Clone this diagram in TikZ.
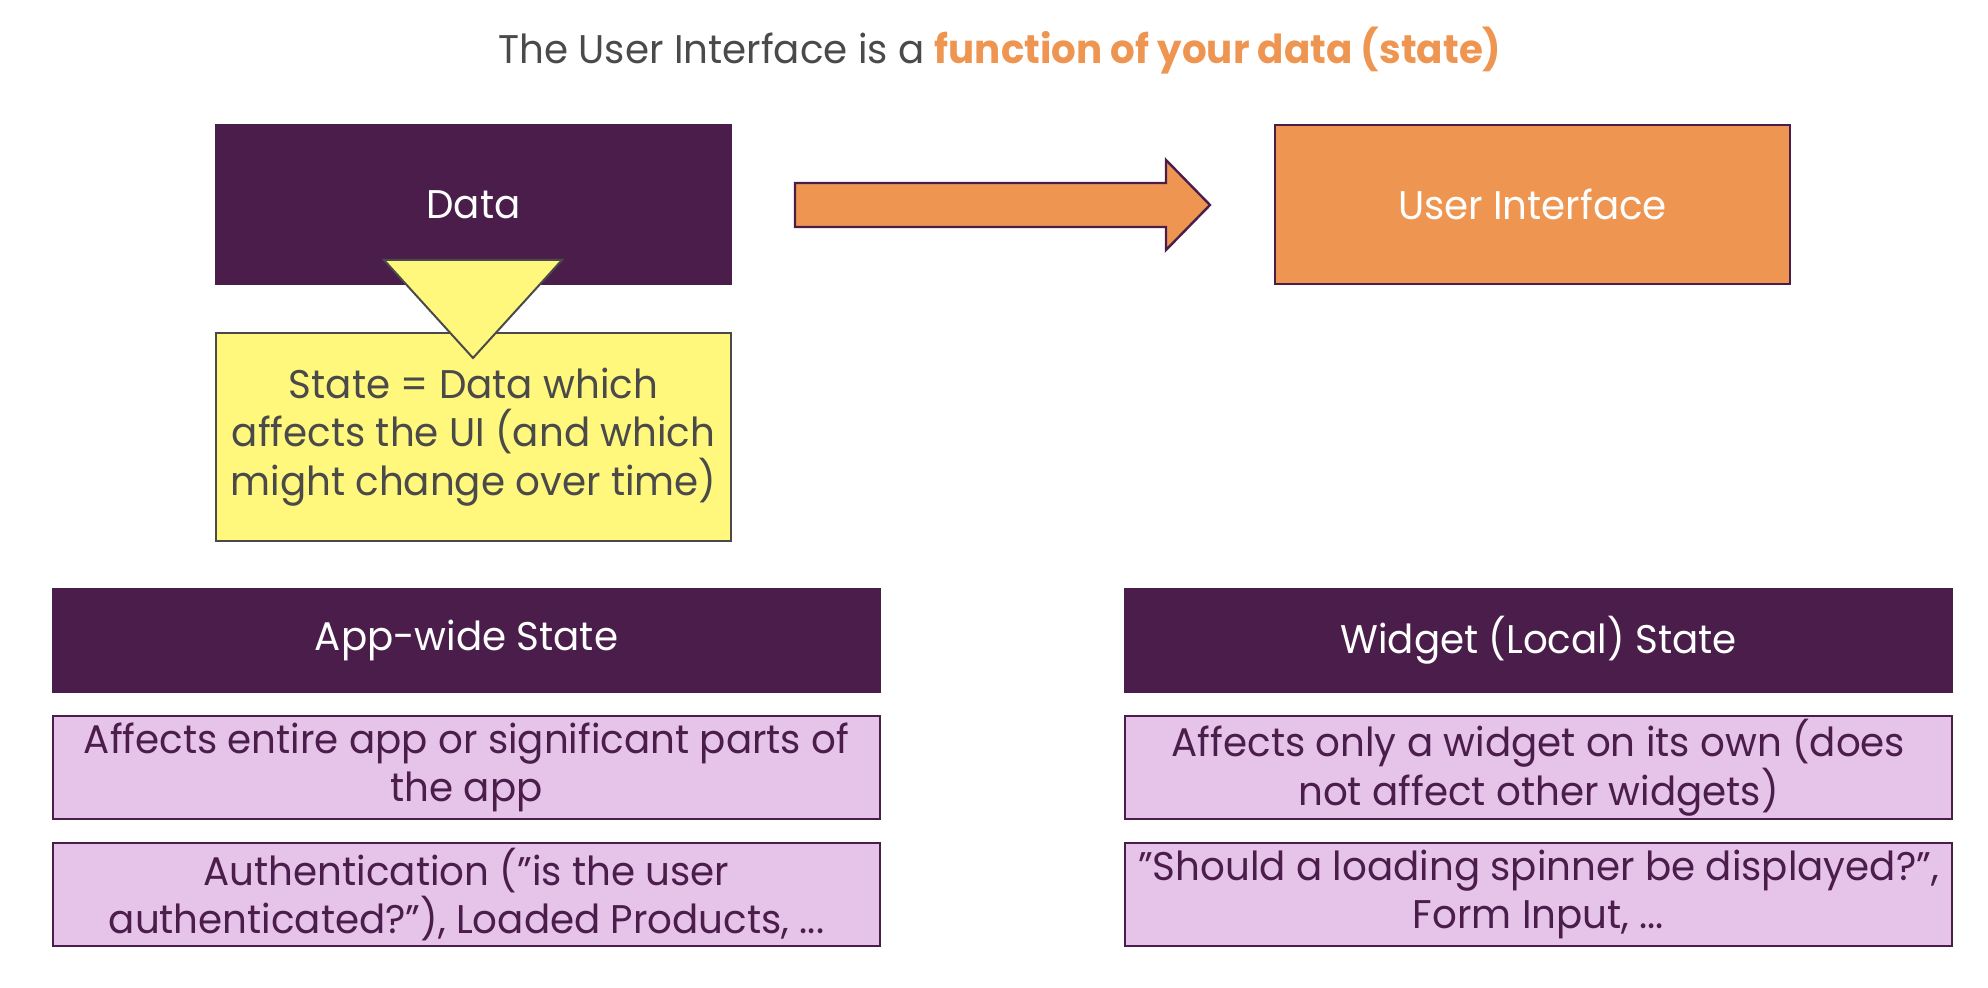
\documentclass[tikz,border=0pt]{standalone}
\usepackage{fontspec}
\setmainfont[FakeStretch=0.97]{Poppins}
\usepackage{tikz}
\usetikzlibrary{positioning}

\definecolor{plum}{HTML}{4A1D4B}
\definecolor{tangerine}{HTML}{EE9651}
\definecolor{lemon}{HTML}{FFF87D}
\definecolor{lilac}{HTML}{E6C3E9}
\definecolor{slate}{HTML}{4A4A4A}

\begin{document}
\begin{tikzpicture}[x=0.5pt, y=-0.5pt,
    every node/.style={font=\fontsize{20}{24.25}\selectfont, align=center, inner sep=0pt},
    topbox/.style={minimum width=257.5pt, minimum height=79.5pt, line width=1pt},
    darkbox/.style={draw=plum, fill=plum, text=white},
    orangebox/.style={draw=plum, fill=tangerine, text=white},
    yellowbox/.style={draw=slate, fill=lemon, text=slate, line width=1pt, minimum width=257.5pt, minimum height=104pt},
    rowbox/.style={minimum width=413.5pt, minimum height=51.5pt, line width=1pt},
    lilacbox/.style={draw=plum, fill=lilac, text=plum}]
  \useasboundingbox (0,0) rectangle (1988,988);

  % title
  \node[text=slate] (title) at (1000,51)
    {The User Interface is a \textcolor{tangerine}{\bfseries function of your data (state)}};

  % data -> user interface
  \node[topbox, darkbox] (data) at (473.5,204.5) {Data};
  \node[topbox, orangebox] (ui) at (1532.5,204.5) {User Interface};
  \draw[draw=plum, fill=tangerine, line width=1.2pt]
    (795,183) -- (1166,183) -- (1166,160) -- (1210,205) -- (1166,250) -- (1166,227) -- (795,227) -- cycle;

  % state
  \node[yellowbox] (state) at (473.5,437)
    {State = Data which\\affects the UI (and which\\might change over time)};
  \draw[draw=slate, fill=lemon, line width=1pt] (384,260) -- (562,260) -- (473,358) -- cycle;

  % app-wide state
  \node[rowbox, darkbox] (app) at (466.5,640.5) {App-wide State};
  \node[rowbox, lilacbox, below=11pt of app] (appwhat)
    {Affects entire app or significant parts of\\the app};
  \node[rowbox, lilacbox, below=11pt of appwhat] (appex)
    {Authentication (”is the user\\authenticated?”), Loaded Products, ...};

  % widget state
  \node[rowbox, darkbox] (widget) at (1538.5,640.5) {Widget (Local) State};
  \node[rowbox, lilacbox, below=11pt of widget] (widgetwhat)
    {Affects only a widget on its own (does\\not affect other widgets)};
  \node[rowbox, lilacbox, below=11pt of widgetwhat] (widgetex)
    {”Should a loading spinner be displayed?”,\\Form Input, ...};
\end{tikzpicture}
\end{document}
